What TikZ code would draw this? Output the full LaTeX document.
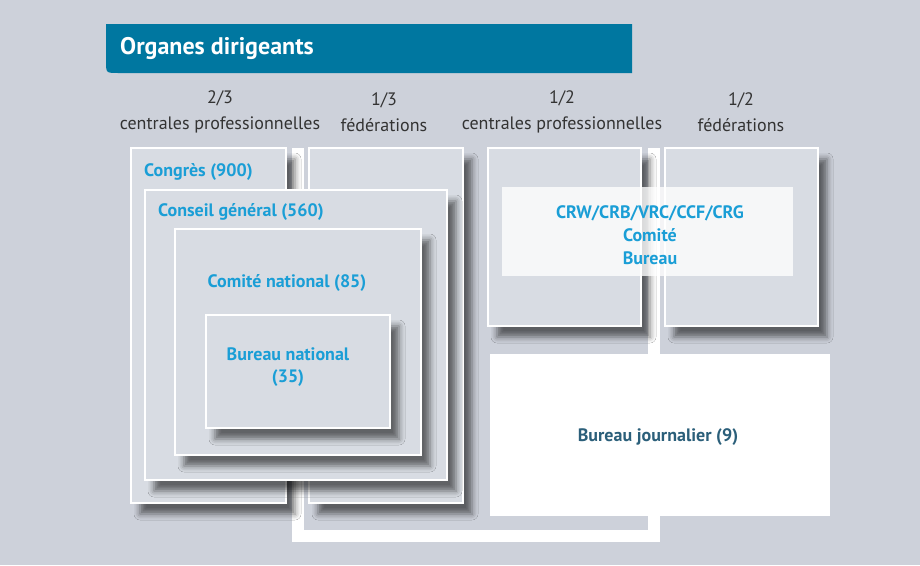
\documentclass[tikz,border=0pt]{standalone}
\usepackage{fontspec}
\setmainfont{PT Sans}
\usetikzlibrary{shadows.blur}
\definecolor{bg}{HTML}{CDD1DA}
\definecolor{boxfill}{HTML}{D8DCE3}
\definecolor{hdr}{HTML}{0077A0}
\definecolor{lblue}{HTML}{1A9ED6}
\definecolor{dteal}{HTML}{2B5F7A}
\definecolor{toptxt}{HTML}{333333}
\begin{document}
\begin{tikzpicture}[x=1pt,y=-1pt,
  box/.style={draw=white,line width=2pt,fill=boxfill,inner sep=0pt,
    blur shadow={shadow xshift=9pt,shadow yshift=-11pt,shadow blur radius=6pt,shadow opacity=55}},
  lbl/.style={text=lblue,font=\fontsize{18}{22}\selectfont\bfseries,inner sep=0pt},
  top/.style={text=toptxt,font=\fontsize{18}{26}\selectfont,align=center,inner sep=0pt},
  conn/.style={white,line width=12pt}]
\fill[bg] (0,0) rectangle (920,565);
\useasboundingbox (0,0) rectangle (920,565);
% header
\fill[hdr] (106,24) -- (632,24) -- (632,73) -- (118,73) .. controls (106,73) .. (106,61) -- cycle;
\node[anchor=west,text=white,font=\fontsize{24}{28}\selectfont\bfseries,inner sep=0pt] (title) at (120,48) {Organes dirigeants};
% top labels
\node[top] (t1) at (220,112) {2/3\\centrales professionnelles};
\node[top] (t2) at (384,112) {1/3\\fédérations};
\node[top] (t3) at (562,112) {1/2\\centrales professionnelles};
\node[top] (t4) at (741,112) {1/2\\fédérations};
% connector
\coordinate (c1) at (297.5,148);
\coordinate (c2) at (297.5,536);
\coordinate (c3) at (653.5,536);
\coordinate (c4) at (653.5,148);
\draw[conn] (c1) -- (c2) -- (c3) -- (c4);
% boxes
\node[box,minimum width=155pt,minimum height=355pt] (congres) at (208.5,325.5) {};
\node[box,minimum width=154pt,minimum height=355pt] (fed) at (386,325.5) {};
\node[box,minimum width=302pt,minimum height=290pt] (conseil) at (296,335) {};
\node[box,minimum width=246pt,minimum height=226pt] (comite) at (298,342) {};
\node[box,minimum width=184pt,minimum height=113pt] (bureau) at (298,371.5) {};
\node[box,minimum width=153pt,minimum height=178pt] (cp2) at (564.5,237) {};
\node[box,minimum width=153pt,minimum height=178pt] (fed2) at (741.5,237) {};
\fill[white,opacity=0.78] (502,187) rectangle (793,276);
\node[fill=white,inner sep=0pt,minimum width=340pt,minimum height=162pt] (bj) at (660,435) {};
% labels
\node[lbl,anchor=west] at (144,172) {Congrès (900)};
\node[lbl,anchor=west] at (158,212) {Conseil général (560)};
\node[lbl] at (287,283) {Comité national (85)};
\node[lbl,align=center] at (288,367) {Bureau national\\(35)};
\node[lbl,align=center,font=\fontsize{18}{23}\selectfont\bfseries] at (650,235) {CRW/CRB/VRC/CCF/CRG\\Comité\\Bureau};
\node[lbl,text=dteal] at (658,437) {Bureau journalier (9)};
\end{tikzpicture}
\end{document}
